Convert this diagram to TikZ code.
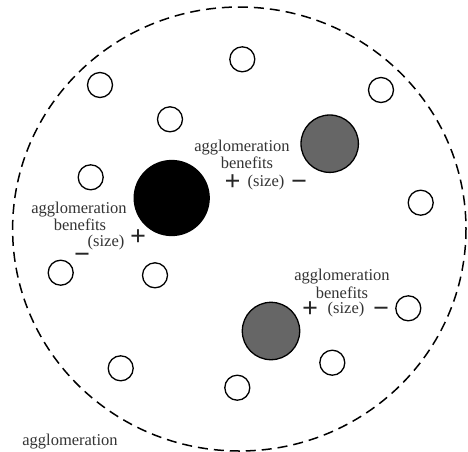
\documentclass[tikz,border=0pt]{standalone}
\usepackage{fontspec}
\setmainfont{Liberation Serif}
\begin{document}
\begin{tikzpicture}[x=1pt,y=-1pt,
  firm/.style={circle,draw=black,line width=1.3pt,minimum size=25pt,inner sep=0pt,fill=white},
  bigfirm/.style={circle,draw=black,line width=1.3pt,inner sep=0pt},
  lbl/.style={text=black!80,font=\fontsize{16.5}{15}\selectfont,inner sep=0pt},
  sgn/.style={text=black!85,font=\fontsize{28}{28}\selectfont\bfseries,inner sep=0pt,yshift=-7pt}]
\useasboundingbox (0,0) rectangle (468,451);
% region boundary
\draw[dash pattern=on 10pt off 6pt,line width=1.5pt] (239.3,229) ellipse [x radius=226.7,y radius=222];
% small firms
\node[firm] (s1) at (242.3,59.3) {};
\node[firm] (s2) at (100,85) {};
\node[firm] (s3) at (381,90) {};
\node[firm] (s4) at (170,119.3) {};
\node[firm] (s5) at (90.7,177.3) {};
\node[firm] (s6) at (420.7,202.7) {};
\node[firm] (s7) at (60.7,272.7) {};
\node[firm] (s8) at (155,275.3) {};
\node[firm] (s9) at (408.3,308.3) {};
\node[firm] (s10) at (120.7,368.3) {};
\node[firm] (s11) at (332.3,362.7) {};
\node[firm] (s12) at (237.3,387.7) {};
% large firms
\node[bigfirm,fill=black,minimum size=75pt] (big) at (171.7,198) {};
\node[bigfirm,fill=black!60,minimum size=57.4pt] (g1) at (329.7,143.7) {};
\node[bigfirm,fill=black!60,minimum size=57.4pt] (g2) at (271,331) {};
% top label
\node[lbl] (a1) at (242,148) {agglomeration};
\node[lbl] (b1) at (247,163) {benefits};
\node[sgn] (p1) at (232.5,183) {\smash{+}};
\node[lbl] (z1) at (266,183) {(size)};
\node[sgn] (m1) at (299,183) {\smash{−}};
% left label
\node[lbl] (a2) at (79,210) {agglomeration};
\node[lbl] (b2) at (80,225) {benefits};
\node[lbl] (z2) at (106,243) {(size)};
\node[sgn] (p2) at (138,238) {\smash{+}};
\node[sgn] (m2) at (82,256) {\smash{−}};
% bottom right label
\node[lbl] (a3) at (342,277) {agglomeration};
\node[lbl] (b3) at (342,293) {benefits};
\node[sgn] (p3) at (310,310) {\smash{+}};
\node[lbl] (z3) at (346,310) {(size)};
\node[sgn] (m3) at (381,310) {\smash{−}};
% region label
\node[lbl] (a4) at (70,442) {agglomeration};
\end{tikzpicture}
\end{document}
